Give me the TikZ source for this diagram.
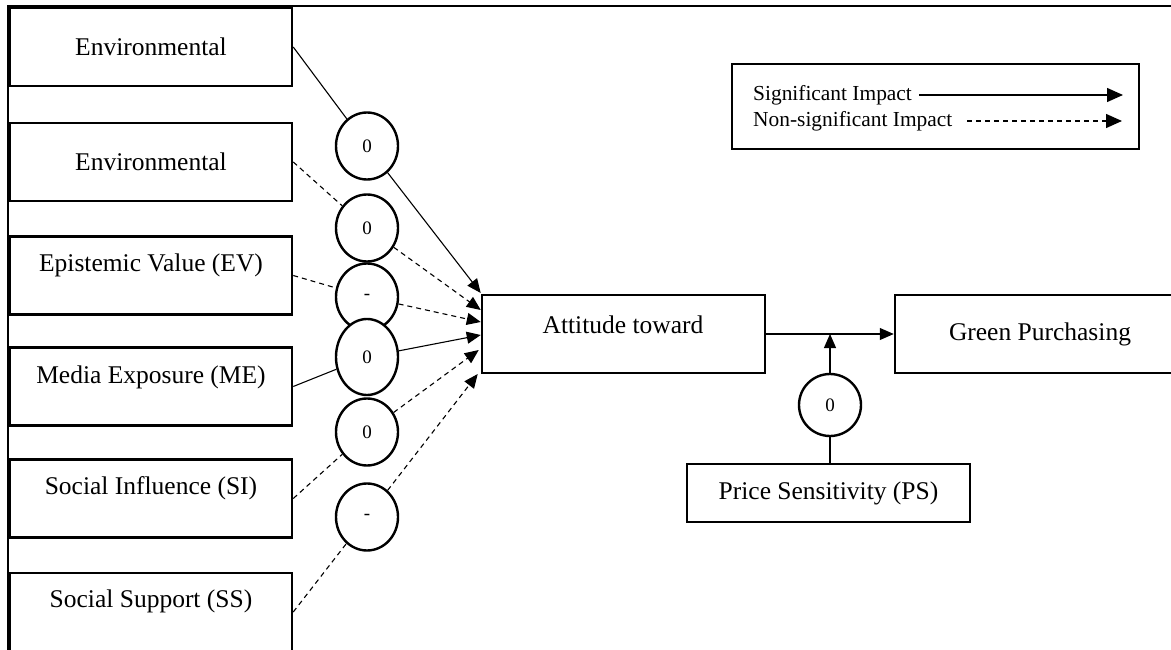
\documentclass[tikz,border=0pt]{standalone}
\usepackage{fontspec}
\setmainfont{Liberation Serif}
\usetikzlibrary{arrows.meta,shapes.geometric,calc}
\begin{document}
\begin{tikzpicture}[x=1pt,y=-1pt,
  box/.style={draw,line width=2.5pt,rectangle,inner sep=0pt,minimum width=282pt,minimum height=78pt},
  txt/.style={font=\fontsize{25.5}{30}\selectfont,inner sep=0pt},
  ltxt/.style={font=\fontsize{21.4}{25}\selectfont,inner xsep=7pt,inner ysep=0pt,anchor=west},
  ring/.style={draw,line width=2.4pt,ellipse,fill=white,minimum width=62pt,minimum height=67pt,inner sep=0pt,font=\fontsize{19}{22}\selectfont},
  sig/.style={line width=1.1pt,-{Triangle[length=14pt,width=12pt]}},
  nsig/.style={sig,dash pattern=on 5pt off 4pt},
  lsig/.style={line width=1.3pt,-{Triangle[length=16pt,width=14pt]}},
  lnsig/.style={lsig,dash pattern=on 5pt off 4pt},
]
\useasboundingbox (0,0) rectangle (1171,650);
\clip (0,0) rectangle (1171,650);

% outer frame
\draw[line width=2pt] (7.5,660) -- (7.5,6) -- (1180,6);

% left boxes
\node[box] (b1) at (151,47) {};
\node[box] (b2) at (151,162) {};
\node[box] (b3) at (151,275.5) {};
\node[box] (b4) at (151,386.5) {};
\node[box] (b5) at (151,498.5) {};
\node[box] (b6) at (151,612) {};
\node[txt] (t1) at (151,47) {Environmental};
\node[txt] (t2) at (151,162) {Environmental};
\node[txt] (t3) at (151,265) {Epistemic Value (EV)};
\node[txt] (t4) at (151,377) {Media Exposure (ME)};
\node[txt] (t5) at (151,488) {Social Influence (SI)};
\node[txt] (t6) at (151,601) {Social Support (SS)};

% central boxes
\node[box,minimum width=283pt] (att) at (623.5,334) {};
\node[txt] (tatt) at (623,325) {Attitude toward};
\node[box,txt,minimum width=290pt] (gp) at (1040,334) {Green Purchasing};
\node[box,txt,minimum width=283pt,minimum height=58pt] (ps) at (828.5,493) {Price Sensitivity (PS)};

% circles
\node[ring] (c1) at (367,146) {0};
\node[ring] (c2) at (367,228) {0};
\node[ring] (c3) at (367,297) {-};
\node[ring,minimum height=76pt] (c4) at (367,357) {0};
\node[ring] (c5) at (367,432) {0};
\node[ring] (c6) at (367,517) {-};
\node[ring,minimum height=62pt] (m) at (830,405) {0};

% arrow end points on attitude box
\coordinate (a1) at ($(att.west)+(0,-41)$);
\coordinate (a2) at ($(att.west)+(0,-24)$);
\coordinate (a3) at ($(att.west)+(0,-12)$);
\coordinate (a4) at ($(att.west)+(0,1)$);
\coordinate (a5) at ($(att.west)+(-2,16)$);
\coordinate (a6) at ($(att.west)+(-3,40)$);

\draw[sig]  (b1.east) -- (c1) -- (a1);
\draw[nsig] (b2.east) -- (c2) -- (a2);
\draw[nsig] (b3.east) -- (c3) -- (a3);
\draw[sig]  (b4.east) -- (c4) -- (a4);
\draw[nsig] (b5.east) -- (c5) -- (a5);
\draw[nsig] (b6.east) -- (c6) -- (a6);

% main path and moderator
\draw[sig] (att) -- (gp);
\coordinate (j) at (m |- att.east);
\draw[sig] (m) -- (j);
\draw[line width=1.1pt] (ps.north -| m) -- (m);

% legend
\node[draw,line width=2.5pt,minimum width=407pt,minimum height=85pt,inner sep=0pt] (leg) at (935.5,106.5) {};
\node[ltxt] (l1) at (746,95) {Significant Impact};
\node[ltxt] (l2) at (746,121) {Non-significant Impact};
\coordinate (le1) at (1123,95);
\coordinate (le2) at (1122,121);
\draw[lsig] (l1.east) -- (le1);
\draw[lnsig,shorten <=8pt] (l2.east) -- (le2);
\end{tikzpicture}
\end{document}
